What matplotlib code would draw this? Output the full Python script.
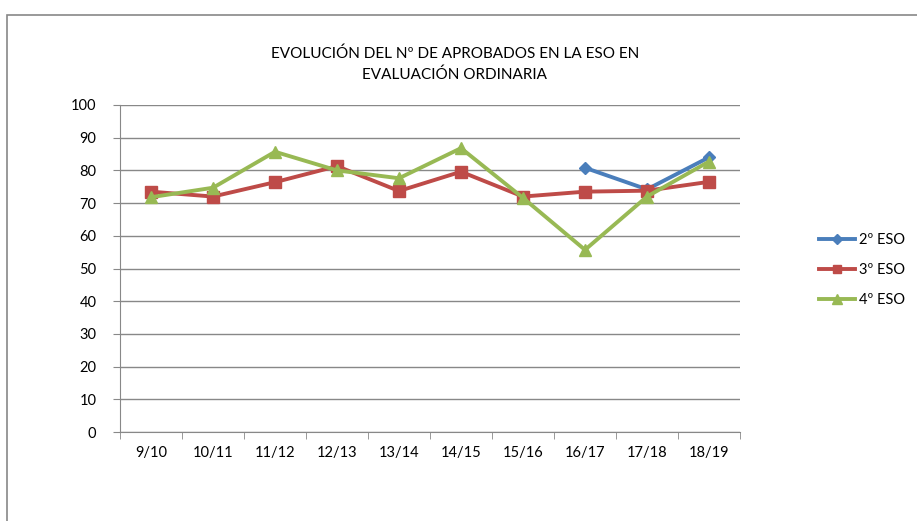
import matplotlib.pyplot as plt
import numpy as np
from matplotlib.patches import Rectangle

plt.rcParams['font.family'] = ['Lato', 'DejaVu Sans']

cursos = ["9/10", "10/11", "11/12", "12/13", "13/14", "14/15", "15/16", "16/17", "17/18", "18/19"]
eso2 = [np.nan] * 7 + [80.8, 74.2, 84.0]
eso3 = [73.5, 72.0, 76.4, 81.3, 73.7, 79.6, 72.0, 73.5, 73.8, 76.5]
eso4 = [71.8, 74.7, 85.7, 80.0, 77.6, 86.8, 71.6, 55.7, 72.0, 82.7]

fig = plt.figure(figsize=(9.17, 5.21), dpi=100)
# outer chart border
fig.patches.append(Rectangle((7 / 917, -0.1), 1.0, 1 - 15 / 521 + 0.1, transform=fig.transFigure,
                             fill=False, edgecolor='#888888', linewidth=1.2))

ax = fig.add_axes([120 / 917, 1 - 432 / 521, 620 / 917, 327 / 521])
x = np.arange(len(cursos))
ax.plot(x, eso2, color='#4A7EBB', lw=2.8, marker='D', ms=6, label='2º ESO')
ax.plot(x, eso3, color='#BE4B48', lw=2.8, marker='s', ms=8, label='3º ESO')
ax.plot(x, eso4, color='#98B954', lw=2.8, marker='^', ms=9, label='4º ESO')

ax.set_xlim(-0.5, len(cursos) - 0.5)
ax.set_ylim(0, 100)
ax.set_yticks(range(0, 101, 10))
ax.set_xticks(x)
ax.set_xticklabels(cursos)
ax.set_xticks(np.arange(-0.5, len(cursos), 1), minor=True)
ax.tick_params(axis='x', which='major', length=0, pad=10, labelsize=10.5)
ax.tick_params(axis='x', which='minor', length=5, color='#888888')
ax.tick_params(axis='y', length=5, color='#888888', labelsize=10.5, pad=12)
ax.grid(axis='y', color='#888888', lw=1)
ax.set_axisbelow(True)
for s in ['top', 'right']:
    ax.spines[s].set_visible(False)
for s in ['left', 'bottom']:
    ax.spines[s].set_color('#888888')

fig.text(455 / 917, 1 - 64 / 521, "EVOLUCIÓN DEL Nº DE APROBADOS EN LA ESO EN\nEVALUACIÓN ORDINARIA",
         ha='center', va='center', fontsize=11, linespacing=1.6)

fig.legend(loc='center left', bbox_to_anchor=(819 / 917, 1 - 270 / 521), frameon=False,
           fontsize=10.5, handlelength=2.5, labelspacing=1.1, handletextpad=0.25,
           borderpad=0, borderaxespad=0, markerscale=0.8)

fig.savefig("out.png", dpi=100)
